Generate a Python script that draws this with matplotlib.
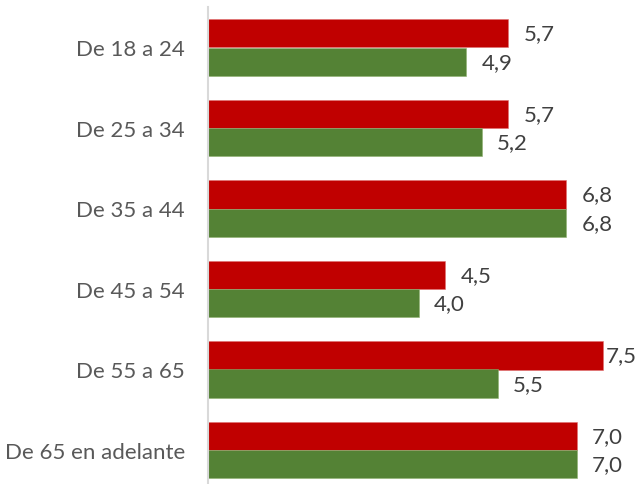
import matplotlib
matplotlib.use("Agg")
import matplotlib.pyplot as plt
import numpy as np

categories = ["De 18 a 24", "De 25 a 34", "De 35 a 44", "De 45 a 54", "De 55 a 65", "De 65 en adelante"]
serie_roja = [5.7, 5.7, 6.8, 4.5, 7.5, 7.0]
serie_verde = [4.9, 5.2, 6.8, 4.0, 5.5, 7.0]

ROJO = "#C00000"
VERDE = "#548235"

plt.rcParams["font.family"] = ["Lato", "DejaVu Sans"]

W, H = 640, 485
fig = plt.figure(figsize=(W / 100, H / 100), dpi=100)

# plot area in pixel terms: zero line at x=208, 6 category bands of 80.5 px from y=8.25
x0, top, band = 208.0, 8.25, 80.5
xmax = 8.0
px_per_unit = 52.67
ax = fig.add_axes([x0 / W, (H - top - 6 * band) / H, xmax * px_per_unit / W, 6 * band / H])

y = np.arange(len(categories))
h = 0.354
ax.barh(y - h / 2, serie_roja, height=h, color=ROJO, edgecolor="#e07070", linewidth=0.4)
ax.barh(y + h / 2, serie_verde, height=h, color=VERDE, edgecolor="#8fb070", linewidth=0.4)

ax.set_xlim(0, xmax)
ax.set_ylim(len(categories) - 0.5, -0.5)
ax.set_yticks(y)
ax.set_yticklabels(categories, fontsize=16, color="#595959")
ax.tick_params(axis="y", length=0, pad=16.5)
ax.set_xticks([])
for s in ["top", "right", "bottom"]:
    ax.spines[s].set_visible(False)
ax.spines["left"].set_color("#d9d9d9")
ax.spines["left"].set_linewidth(1.5)

def fmt(v):
    return f"{v:.1f}".replace(".", ",")

labels = []
for vals, off in ((serie_roja, -h / 2), (serie_verde, h / 2)):
    for yi, v in zip(y, vals):
        t = ax.annotate(fmt(v), xy=(v, yi + off), xytext=(11, 0), textcoords="offset points",
                        ha="left", va="center", fontsize=16, color="#404040",
                        annotation_clip=False)
        labels.append(t)

# keep value labels inside the figure's right edge
fig.canvas.draw()
renderer = fig.canvas.get_renderer()
limit = W - 3
for t in labels:
    bb = t.get_window_extent(renderer)
    if bb.x1 > limit:
        dx_pts = (bb.x1 - limit) * 72 / fig.dpi
        ox, oy = t.xyann
        t.xyann = (ox - dx_pts, oy)

fig.savefig("out.png", dpi=100)
